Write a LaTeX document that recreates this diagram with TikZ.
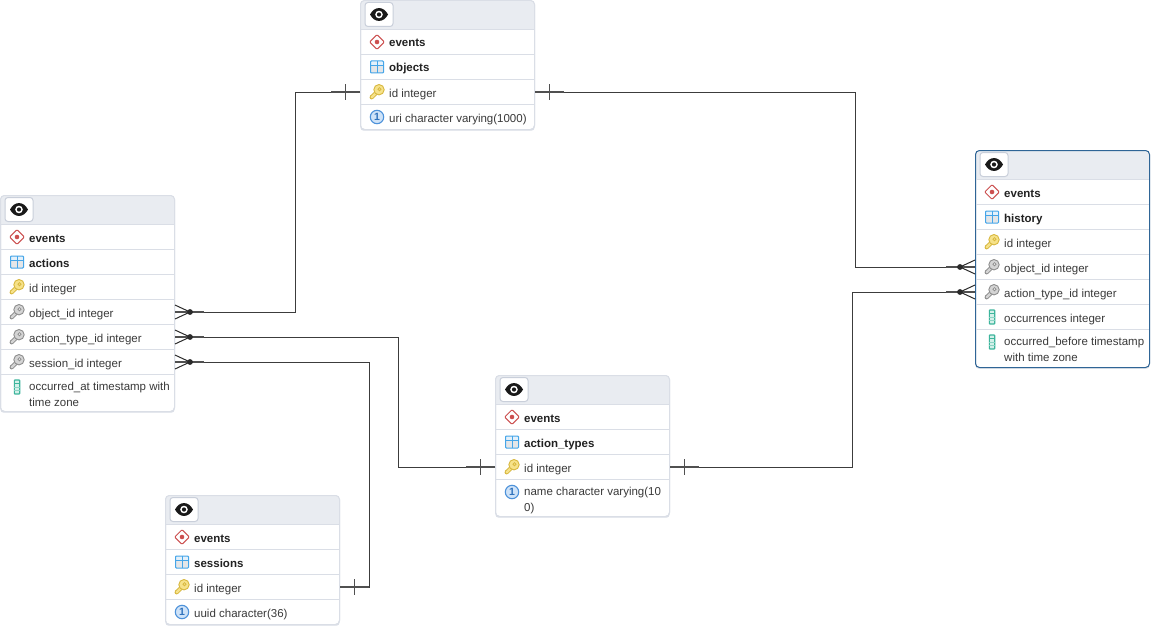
\documentclass[tikz,border=0pt]{standalone}
\usepackage{fontspec}
\setmainfont{Liberation Sans}
\definecolor{hdr}{HTML}{E9ECF1}
\definecolor{sepc}{HTML}{DADEE6}
\definecolor{btn}{HTML}{C9CFDA}
\definecolor{txt}{HTML}{3A3A3A}
\definecolor{boldtxt}{HTML}{222222}
\definecolor{linec}{HTML}{3C3C3C}
\definecolor{lined}{HTML}{2A2A2A}
\definecolor{neardark}{HTML}{505050}
\definecolor{selc}{HTML}{2F6596}
\definecolor{keyo}{HTML}{D8B840}
\definecolor{keyf}{HTML}{F6E28A}
\definecolor{fko}{HTML}{8E8E8E}
\definecolor{fkf}{HTML}{D4D4D4}
\definecolor{schemac}{HTML}{CC5050}
\definecolor{tblc}{HTML}{45A5E8}
\definecolor{tbltop}{HTML}{E4F1FB}
\definecolor{tbllow}{HTML}{E4E6E8}
\definecolor{uko}{HTML}{4D92DA}
\definecolor{ukf}{HTML}{CFE3F8}
\definecolor{ukt}{HTML}{2F72BC}
\definecolor{colo}{HTML}{3DB59C}
\definecolor{colf}{HTML}{D3F0E9}
\newcommand{\keyshape}[3]{%
  \draw[#1,line width=4pt,line cap=round] (-5.4,5.4) -- (1,-1);
  \draw[#1,line width=2pt] (-6.4,3.2) -- (-4,5.8) (-3.9,1.2) -- (-1.4,3.9);
  \draw[#2,line width=2.2pt,line cap=round] (-5.4,5.4) -- (1,-1);
  \fill[#2,draw=#1,line width=.9pt] (2,-2.3) circle (5.2);
  \draw[#1,fill=#3,line width=.8pt] (2.5,-2.8) circle (1.6);
}
\tikzset{
  x=1pt,y=-1pt,
  tablebox/.style={draw=sepc,rounded corners=4pt,line width=1pt,anchor=north west,inner sep=0pt,outer sep=0pt},
  rowbox/.style={anchor=north west,minimum width=175pt,inner sep=0pt,outer sep=0pt},
  rowtext/.style={anchor=base west,inner sep=0pt,text=txt,font=\fontsize{11.5}{16}\selectfont,align=left},
  boldtext/.style={rowtext,text=boldtxt,font=\fontsize{11.5}{16}\selectfont\bfseries},
  sepline/.style={draw=sepc,line width=1pt,shorten <=.6pt,shorten >=.6pt},
  conn/.style={draw=linec,line width=1pt},
  endmark/.style={draw=lined,line width=1pt},
  nearend/.style={draw=neardark,line width=1.8pt},
  tickmark/.style={draw=neardark,line width=1.3pt},
  eyeicon/.pic={
    \draw[btn,fill=white,line width=1pt,rounded corners=3pt] (-14,-12) rectangle (14,12);
    \fill[black!90] (-9,0) .. controls (-4.5,-8.6) and (4.5,-8.6) .. (9,0) .. controls (4.5,8.6) and (-4.5,8.6) .. (-9,0) -- cycle;
    \fill[white] (0,0) circle (3.8);
    \fill[black!90] (0,0) circle (2.1);
  },
  schemaicon/.pic={
    \draw[schemac,fill=white,line width=1pt,rounded corners=.8pt] (-7.3,0) -- (0,-7.3) -- (7.3,0) -- (0,7.3) -- cycle;
    \fill[schemac] (0,0) circle (2.3);
  },
  tableicon/.pic={
    \fill[tbltop] (-6.5,-6) rectangle (6.5,6);
    \fill[tbllow] (-6.5,-1) rectangle (6.5,6);
    \draw[tblc,line width=1pt,rounded corners=.8pt] (-6.5,-6) rectangle (6.5,6);
    \draw[tblc,line width=.9pt] (-6.5,-1.5) -- (6.5,-1.5) (0,-6) -- (0,6);
  },
  pkicon/.pic={\keyshape{keyo}{keyf}{keyf}},
  fkicon/.pic={\keyshape{fko}{fkf}{white}},
  ukicon/.pic={
    \draw[uko,fill=ukf,line width=1.1pt] (0,0) circle (6.7);
    \node[inner sep=0pt,text=ukt,font=\fontsize{10.5}{12}\selectfont\bfseries] at (0,0) {1};
  },
  colicon/.pic={
    \fill[colf] (-2.7,-7) rectangle (2.7,7);
    \draw[colo,line width=1.1pt,rounded corners=.7pt] (-2.7,-7) rectangle (2.7,7);
    \draw[colo,line width=.9pt] (-2.7,-3.4) -- (2.7,-3.4);
    \draw[colo!60,line width=.7pt] (-2.7,0) -- (2.7,0) (-2.7,3.5) -- (2.7,3.5);
  },
  crowleft/.pic={
    \draw[endmark] (0,-7) -- (15,0) (0,7) -- (15,0);
    \draw[nearend] (0,0) -- (29,0);
    \fill[lined] (15,0) circle (2.9);
  },
  crowright/.pic={
    \draw[endmark] (0,-7) -- (-15,0) (0,7) -- (-15,0);
    \draw[nearend] (0,0) -- (-29,0);
    \fill[lined] (-15,0) circle (2.9);
  },
  barleft/.pic={
    \draw[nearend] (0,0) -- (29,0);
    \draw[tickmark] (14.5,-8) -- (14.5,8);
  },
  barright/.pic={
    \draw[nearend] (0,0) -- (-29,0);
    \draw[tickmark] (-14.5,-8) -- (-14.5,8);
  },
}
% \tbl{id}{x}{y}{height}{border colour}: box with header and eye button
\newcommand{\tbl}[5]{%
  \fill[sepc,rounded corners=3pt] (#2,#3+#4-6) rectangle (#2+174,#3+#4+1.2);
  \node[tablebox,fill=white,minimum width=174pt,minimum height=#4pt] (#1) at (#2,#3) {};
  \fill[hdr,rounded corners=4pt] (#2+.5,#3+.5) rectangle (#2+173.5,#3+12);
  \fill[hdr] (#2+.5,#3+8) rectangle (#2+173.5,#3+29);
  \node[tablebox,draw=#5,minimum width=174pt,minimum height=#4pt] (#1-frame) at (#2,#3) {};
  \pic at (#2+18.5,#3+14) {eyeicon};
  \draw[sepline] (#2,#3+29) -- (#2+174,#3+29);
}
% \rw{name}{x}{ytop}{height}{icon}{style}{text}
\newcommand{\rw}[7]{%
  \node[rowbox,minimum height=#4pt] (#1) at (#2,#3+.5) {};
  \pic at (#2+17,#3+13) {#5};
  \node[#6] (#1-text) at (#2+29,#3+18) {#7};
  \draw[sepline] (#1.south west) -- (#1.south east);
}
\newcommand{\rwlast}[7]{%
  \node[rowbox,minimum height=#4pt] (#1) at (#2,#3+.5) {};
  \pic at (#2+17,#3+13) {#5};
  \node[#6] (#1-text) at (#2+29,#3+18) {#7};
}
\newcommand{\rwtwo}[7]{%
  \node[rowbox,minimum height=#4pt] (#1) at (#2,#3+.5) {};
  \pic at (#2+17,#3+13) {#5};
  \node[#6,anchor=north west] (#1-text) at (#2+29,#3+7.5) {#7};
}
\begin{document}
\begin{tikzpicture}
\useasboundingbox (0,0) rectangle (1167,642);
% objects
\tbl{objects}{360.5}{.5}{129}{sepc}
\rw{objects-schema}{360}{29}{25}{schemaicon}{boldtext}{events}
\rw{objects-name}{360}{54}{25}{tableicon}{boldtext}{objects}
\rw{objects-id}{360}{79}{25}{pkicon}{rowtext}{id integer}
\rwlast{objects-uri}{360}{104}{25}{ukicon}{rowtext}{uri character varying(1000)}
% actions
\tbl{actions}{.5}{195.5}{216}{sepc}
\rw{actions-schema}{0}{224}{25}{schemaicon}{boldtext}{events}
\rw{actions-name}{0}{249}{25}{tableicon}{boldtext}{actions}
\rw{actions-id}{0}{274}{25}{pkicon}{rowtext}{id integer}
\rw{actions-object}{0}{299}{25}{fkicon}{rowtext}{object\_id integer}
\rw{actions-type}{0}{324}{25}{fkicon}{rowtext}{action\_type\_id integer}
\rw{actions-session}{0}{349}{25}{fkicon}{rowtext}{session\_id integer}
\rwtwo{actions-at}{0}{374}{37}{colicon}{rowtext}{occurred\_at timestamp with\\time zone}
% history
\tbl{history}{975.5}{150.5}{217}{selc}
\rw{history-schema}{975}{179}{25}{schemaicon}{boldtext}{events}
\rw{history-name}{975}{204}{25}{tableicon}{boldtext}{history}
\rw{history-id}{975}{229}{25}{pkicon}{rowtext}{id integer}
\rw{history-object}{975}{254}{25}{fkicon}{rowtext}{object\_id integer}
\rw{history-type}{975}{279}{25}{fkicon}{rowtext}{action\_type\_id integer}
\rw{history-occ}{975}{304}{25}{colicon}{rowtext}{occurrences integer}
\rwtwo{history-before}{975}{329}{38}{colicon}{rowtext}{occurred\_before timestamp\\with time zone}
% action_types
\tbl{types}{495.5}{375.5}{141}{sepc}
\rw{types-schema}{495}{404}{25}{schemaicon}{boldtext}{events}
\rw{types-name}{495}{429}{25}{tableicon}{boldtext}{action\_types}
\rw{types-id}{495}{454}{25}{pkicon}{rowtext}{id integer}
\rwtwo{types-uname}{495}{479}{37}{ukicon}{rowtext}{name character varying(10\\0)}
% sessions
\tbl{sessions}{165.5}{495.5}{129}{sepc}
\rw{sessions-schema}{165}{524}{25}{schemaicon}{boldtext}{events}
\rw{sessions-name}{165}{549}{25}{tableicon}{boldtext}{sessions}
\rw{sessions-id}{165}{574}{25}{pkicon}{rowtext}{id integer}
\rwlast{sessions-uuid}{165}{599}{25}{ukicon}{rowtext}{uuid character(36)}
% routing columns
\coordinate (c1) at (295,0);
\coordinate (c2) at (855,0);
\coordinate (c3) at (398,0);
\coordinate (c4) at (852,0);
\coordinate (c5) at (369,0);
% connectors
\draw[conn] (objects-id.west) -- (objects-id.west -| c1) -- (actions-object.east -| c1) -- (actions-object.east);
\draw[conn] (objects-id.east) -- (objects-id.east -| c2) -- (history-object.west -| c2) -- (history-object.west);
\draw[conn] (types-id.west) -- (types-id.west -| c3) -- (actions-type.east -| c3) -- (actions-type.east);
\draw[conn] (types-id.east) -- (types-id.east -| c4) -- (history-type.west -| c4) -- (history-type.west);
\draw[conn] (sessions-id.east) -- (sessions-id.east -| c5) -- (actions-session.east -| c5) -- (actions-session.east);
% ends
\pic at (actions-object.east) {crowleft};
\pic at (actions-type.east) {crowleft};
\pic at (actions-session.east) {crowleft};
\pic at (history-object.west) {crowright};
\pic at (history-type.west) {crowright};
\pic at (objects-id.west) {barright};
\pic at (objects-id.east) {barleft};
\pic at (types-id.west) {barright};
\pic at (types-id.east) {barleft};
\pic at (sessions-id.east) {barleft};
\end{tikzpicture}
\end{document}
